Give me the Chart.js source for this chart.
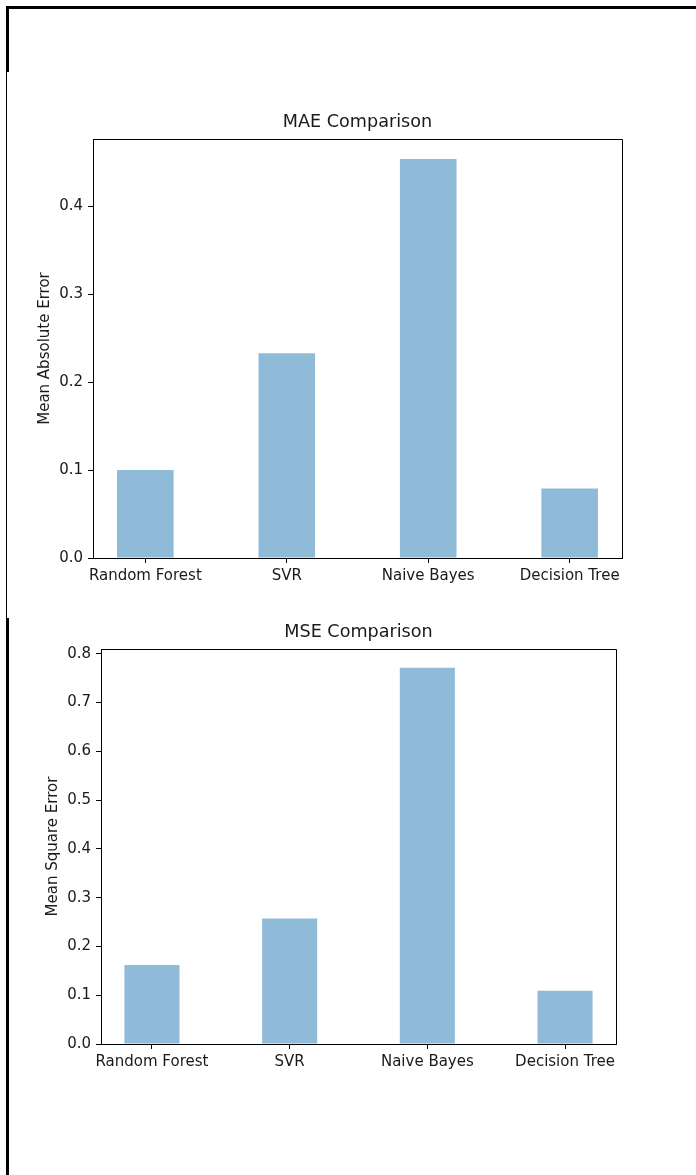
<!DOCTYPE html>
<html>
<head>
<meta charset="utf-8">
<script src="https://cdn.jsdelivr.net/npm/chart.js@4/dist/chart.umd.min.js"></script>
<style>
  html, body { margin: 0; padding: 0; background: #fff; }
  body { width: 696px; height: 1175px; position: relative; overflow: hidden; }
  canvas { position: absolute; left: 0; }
  .rule { position: absolute; background: #000; }
</style>
</head>
<body>
<div class="rule" style="left:6px;top:6px;width:690px;height:3px"></div>
<div class="rule" style="left:6px;top:6px;width:3px;height:66px"></div>
<div class="rule" style="left:6px;top:72px;width:1px;height:547px"></div>
<div class="rule" style="left:6px;top:618px;width:3px;height:557px"></div>

<canvas id="maeChart" width="696" height="500" style="top:100px"></canvas>
<canvas id="mseChart" width="696" height="500" style="top:600px"></canvas>

<script>
// Models compared
const categories = ['Random Forest', 'SVR', 'Naive Bayes', 'Decision Tree'];
// Mean absolute error per model
const maeValues = [0.100, 0.233, 0.454, 0.079];
// Mean squared error per model
const mseValues = [0.162, 0.257, 0.771, 0.109];
// Y tick step for both panels
const yStep = 0.1;

const BAR_COLOR = 'rgba(31,119,180,0.5)';
const FONT = 'DejaVu Sans';
const TEXT = '#1a1a1a';

// Top and right edges of the plot box (left and bottom come from the axes)
const frame = {
  id: 'frame',
  afterDraw(chart) {
    const a = chart.chartArea, ctx = chart.ctx;
    const align = p => Math.round(p - 0.5) + 0.5;
    ctx.save();
    ctx.strokeStyle = '#000';
    ctx.lineWidth = 1;
    const l = align(a.left), r = align(a.right), t = align(a.top), b = align(a.bottom);
    ctx.beginPath();
    ctx.moveTo(l, t); ctx.lineTo(r, t); ctx.lineTo(r, b);
    ctx.stroke();
    ctx.restore();
  }
};

function makeChart(id, values, title, yLabel, L) {
  const n = categories.length;
  const span = (n - 1) + 0.4;
  const xMin = -0.2 - 0.05 * span, xMax = (n - 1) + 0.2 + 0.05 * span;
  const yMax = Math.max(...values) * 1.05;
  return new Chart(document.getElementById(id), {
    type: 'bar',
    data: {
      datasets: [{
        data: values.map((v, i) => ({ x: i, y: v })),
        backgroundColor: BAR_COLOR,
        borderWidth: 0,
        barPercentage: 0.4,
        categoryPercentage: 1.0
      }]
    },
    options: {
      responsive: false,
      animation: false,
      events: [],
      layout: { autoPadding: false, padding: { left: 0, top: 0, right: L.right, bottom: 0 } },
      plugins: {
        legend: { display: false },
        tooltip: { enabled: false },
        title: {
          display: true, text: title, fullSize: false, color: TEXT,
          font: { family: FONT, size: 17.6, weight: 'normal', lineHeight: 1.2 },
          padding: { top: L.titleTop, bottom: L.titleBottom }
        }
      },
      scales: {
        x: {
          type: 'linear', min: xMin, max: xMax, offset: false,
          afterFit: s => { s.height = L.xHeight; },
          afterBuildTicks: s => { s.ticks = categories.map((c, i) => ({ value: i })); },
          grid: { offset: false, drawOnChartArea: false, drawTicks: true, tickLength: 5, color: '#000', tickColor: '#000' },
          border: { display: true, color: '#000', width: 1 },
          ticks: {
            autoSkip: false, maxRotation: 0, padding: 4, color: TEXT,
            font: { family: FONT, size: 15 },
            callback: v => categories[v]
          }
        },
        y: {
          min: 0, max: yMax,
          afterFit: s => { s.width = L.yWidth; },
          grid: { drawOnChartArea: false, drawTicks: true, tickLength: 5, color: '#000', tickColor: '#000' },
          border: { display: true, color: '#000', width: 1 },
          ticks: {
            stepSize: yStep, includeBounds: false, padding: 5, color: TEXT,
            font: { family: FONT, size: 15 },
            callback: v => v.toFixed(1)
          },
          title: {
            display: true, text: yLabel, color: TEXT,
            font: { family: FONT, size: 15, lineHeight: 1.2 },
            padding: { top: L.yTitlePad, bottom: 0 }
          }
        }
      }
    },
    plugins: [frame]
  });
}

makeChart('maeChart', maeValues, 'MAE Comparison', 'Mean Absolute Error',
  { right: 74, titleTop: 11.4, titleBottom: 6.5, xHeight: 42, yWidth: 93, yTitlePad: 36 });
makeChart('mseChart', mseValues, 'MSE Comparison', 'Mean Square Error',
  { right: 80, titleTop: 21.9, titleBottom: 6.0, xHeight: 56, yWidth: 101, yTitlePad: 44.5 });
</script>
</body>
</html>
